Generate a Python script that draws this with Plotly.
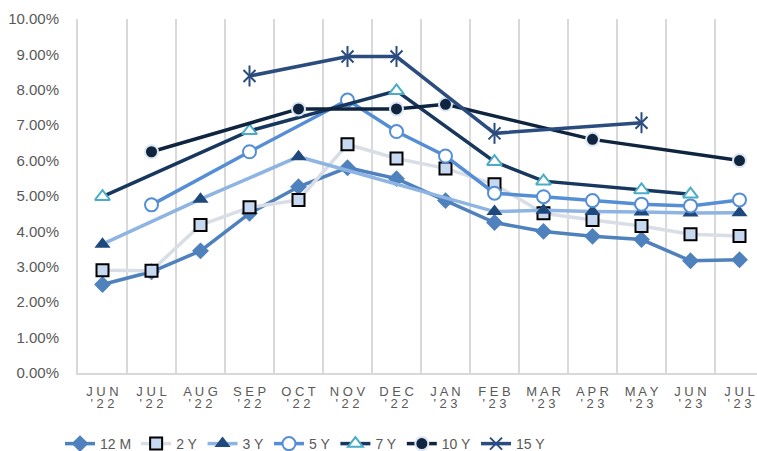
import plotly.graph_objects as go

months = ["JUN", "JUL", "AUG", "SEP", "OCT", "NOV", "DEC", "JAN", "FEB", "MAR", "APR", "MAY", "JUN", "JUL"]
years = ["'22", "'22", "'22", "'22", "'22", "'22", "'22", "'23", "'23", "'23", "'23", "'23", "'23", "'23"]
categories = [f"{m} {y}" for m, y in zip(months, years)]

y12m = [2.50, 2.86, 3.45, 4.51, 5.26, 5.80, 5.49, 4.87, 4.25, 4.00, 3.86, 3.77, 3.17, 3.20]
y2y = [2.90, 2.89, 4.18, 4.68, 4.89, 6.46, 6.06, 5.78, 5.33, 4.51, 4.32, 4.15, 3.92, 3.87]
y3y = [3.64, None, 4.91, None, 6.11, None, None, None, 4.56, 4.60, 4.56, 4.55, 4.52, 4.53]
y5y = [None, 4.75, None, 6.25, None, 7.71, 6.82, 6.13, 5.08, 4.98, 4.87, 4.77, 4.72, 4.89]
y7y = [4.98, None, None, 6.84, None, None, 7.97, None, 5.97, 5.42, None, 5.17, 5.05, None]
y10y = [None, 6.25, None, None, 7.46, None, 7.46, 7.59, None, None, 6.60, None, None, 6.00]
y15y = [None, None, None, 8.39, None, 8.94, 8.94, None, 6.77, None, None, 7.07, None, None]

FONT = "Liberation Sans, Arial, sans-serif"
GREY = "#595959"
GRID = "#D9D9D9"

W, H = 757, 451
PL, PR, PT, PB = 78, 757, 19, 373   # plot area edges in pixels
STEP = 49                           # pixels per category
n = len(categories)
xrange_ = [-0.5, -0.5 + (PR - PL) / STEP]


def spaced(s):
    return " ".join(list(s))


fig = go.Figure()


def add(name, y, line_color, symbol, mfill, mline, msize, mlw=2):
    fig.add_trace(go.Scatter(
        x=categories, y=y, name=name, mode="lines+markers", connectgaps=True,
        line=dict(color=line_color, width=3.5),
        marker=dict(symbol=symbol, size=msize, color=mfill, line=dict(color=mline, width=mlw)),
    ))


add("12 M", y12m, "#4F81BD", "diamond", "#4F81BD", "#4F81BD", 13, 0)
add("2 Y", y2y, "#D9DEE6", "square", "#C6D9F1", "#000000", 12, 2)
add("3 Y", y3y, "#8DB4E2", "triangle-up", "#1F497D", "#1F497D", 14, 0)
add("5 Y", y5y, "#558ED5", "circle", "#FFFFFF", "#558ED5", 13, 2)
add("7 Y", y7y, "#17375E", "triangle-up", "#FFFFFF", "#4BACC6", 13, 2)
add("10 Y", y10y, "#0F243E", "circle", "#0F243E", "#DCE6F2", 13, 2)
fig.add_trace(go.Scatter(
    x=categories, y=y15y, name="15 Y", mode="lines+markers", connectgaps=True,
    line=dict(color="#2B4C7E", width=3.5),
    marker=dict(symbol="x-thin-open", size=12, color="#2B4C7E", line=dict(color="#2B4C7E", width=2)),
))
fig.add_trace(go.Scatter(
    x=categories, y=y15y, name="15 Y", mode="markers", showlegend=False,
    marker=dict(symbol="line-ns-open", size=15, color="#2B4C7E", line=dict(color="#2B4C7E", width=2)),
))
# invisible trace that activates the second (year-label) x axis
fig.add_trace(go.Scatter(x=[0], y=[None], xaxis="x2", showlegend=False, hoverinfo="skip"))

fig.update_layout(
    width=W, height=H,
    margin=dict(l=0, r=0, t=0, b=0, autoexpand=False),
    paper_bgcolor="white", plot_bgcolor="white",
    font=dict(family=FONT, color=GREY),
    xaxis=dict(
        domain=[PL / W, PR / W],
        type="category", categoryorder="array", categoryarray=categories,
        range=xrange_,
        tickmode="array", tickvals=categories, ticktext=[spaced(m) for m in months],
        tickson="boundaries", ticks="",
        showgrid=True, gridcolor=GRID, gridwidth=2,
        showline=True, linecolor=GRID, linewidth=2,
        tickfont=dict(family=FONT, size=13, color=GREY), ticklabelstandoff=5,
        zeroline=False, automargin=False,
    ),
    xaxis2=dict(
        domain=[PL / W, PR / W],
        overlaying="x", side="bottom", anchor="y",
        range=xrange_,
        tickmode="array", tickvals=list(range(n)), ticktext=[spaced(y) for y in years],
        showgrid=False, showline=False, ticks="", zeroline=False,
        tickfont=dict(family=FONT, size=13, color=GREY), ticklabelstandoff=21,
        automargin=False,
    ),
    yaxis=dict(
        domain=[(H - PB) / H, (H - PT) / H],
        range=[0, 10], tickmode="linear", tick0=0, dtick=1,
        tickformat=".2f", ticksuffix="%",
        showgrid=False, zeroline=False,
        showline=True, linecolor=GRID, linewidth=2, ticks="",
        tickfont=dict(family=FONT, size=15, color=GREY),
        ticklabelstandoff=14, automargin=False,
    ),
    legend=dict(
        orientation="h", x=60 / W, xanchor="left", y=(H - 444) / H, yanchor="middle",
        font=dict(family=FONT, size=14, color=GREY),
        bgcolor="rgba(0,0,0,0)", itemwidth=30,
    ),
    showlegend=True,
)

fig.write_html(
    "out.html",
    config={"responsive": False, "displayModeBar": False},
    post_script="document.body.style.margin='0';document.body.style.overflow='hidden';",
)
